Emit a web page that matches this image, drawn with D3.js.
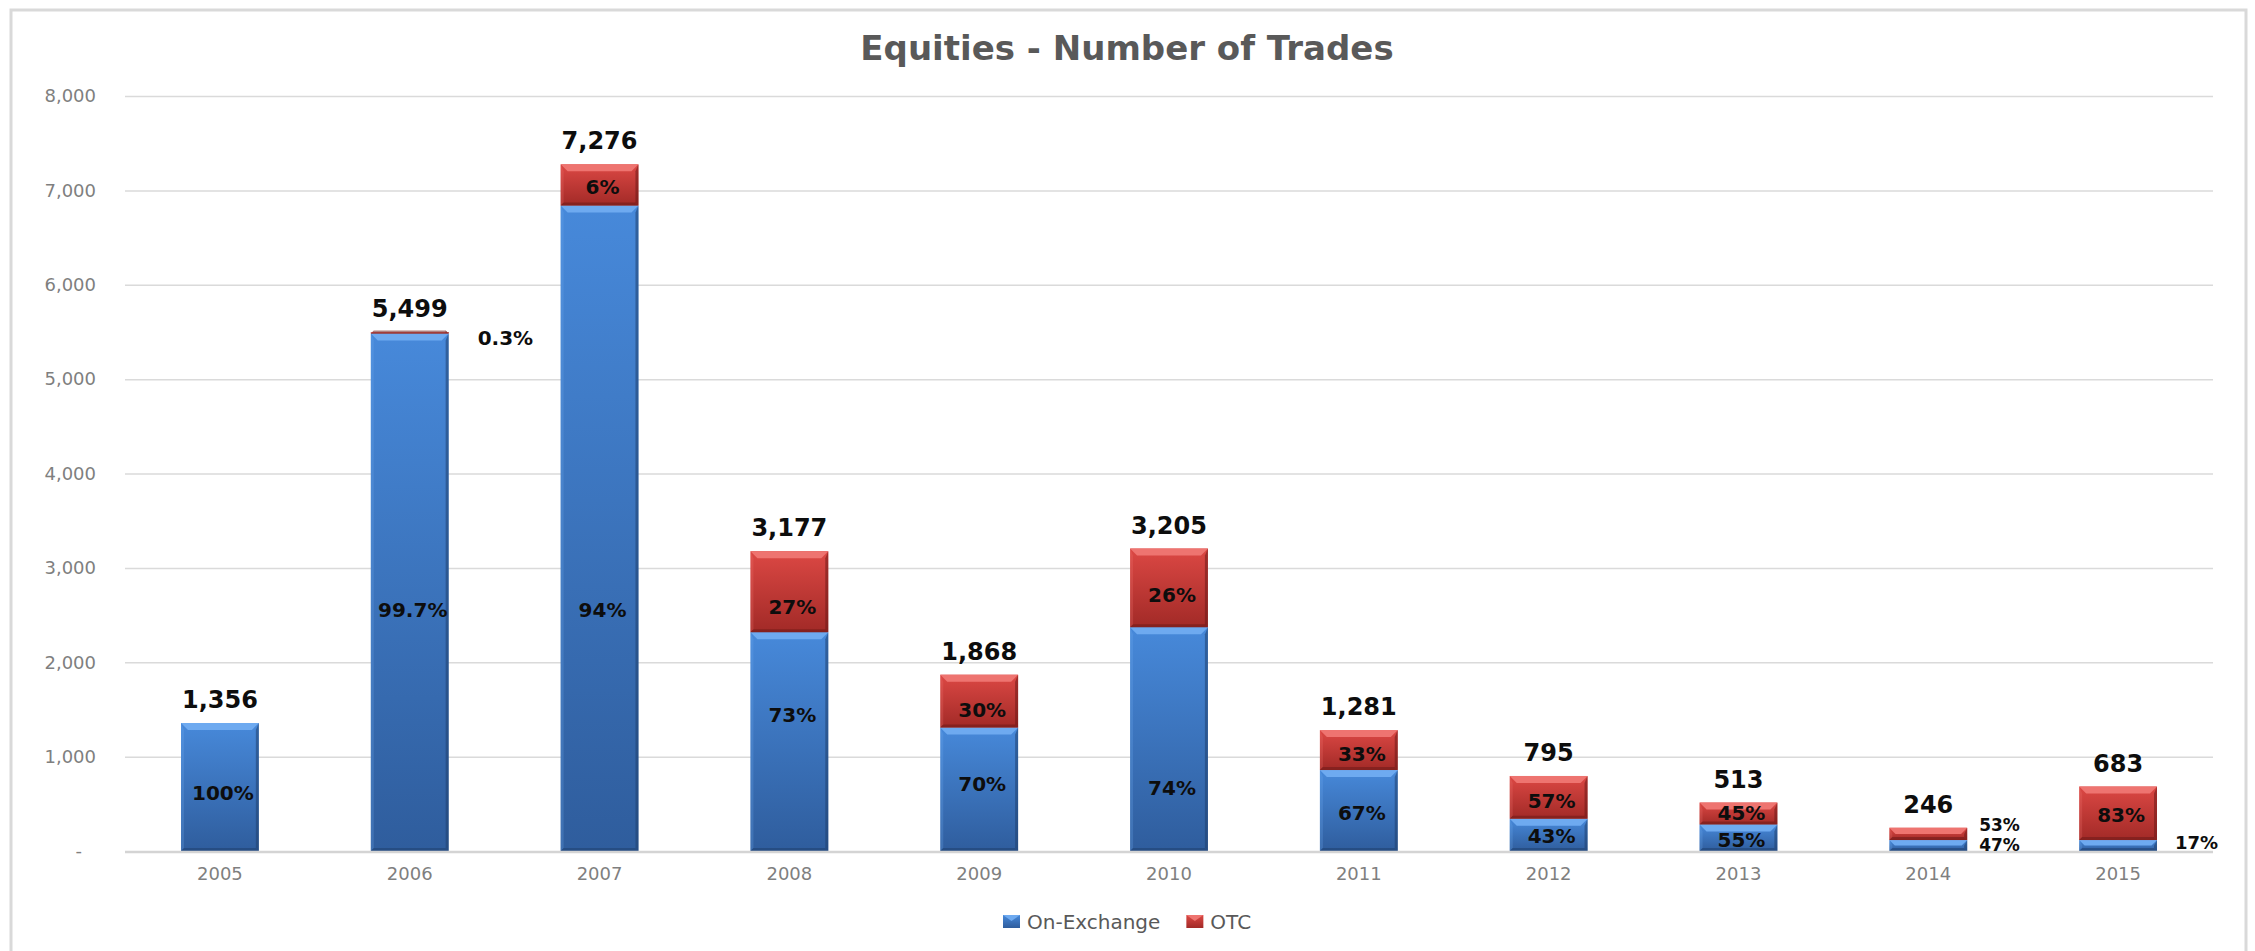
<!DOCTYPE html>
<html>
<head>
<meta charset="utf-8">
<script src="https://cdn.jsdelivr.net/npm/d3@7"></script>
<style>
  body { margin: 0; background: #fff; }
  svg { display: block; }
  .axis text { font-family: "DejaVu Sans", Verdana, sans-serif; fill: #7f7f7f; }
  .lbl { font-family: "DejaVu Sans", Verdana, sans-serif; font-weight: bold; fill: #0d0d0d; }
</style>
</head>
<body>
<div id="chart"></div>
<script>
var years = ["2005", "2006", "2007", "2008", "2009", "2010", "2011", "2012", "2013", "2014", "2015"];
var seriesNames = ["On-Exchange", "OTC"];
var onExchange = [1356, 5483, 6839, 2319, 1308, 2372, 858, 342, 282, 116, 116];
var otc = [0, 16, 437, 858, 560, 833, 423, 453, 231, 130, 567];
var totals = [1356, 5499, 7276, 3177, 1868, 3205, 1281, 795, 513, 246, 683];
var onExchangeShare = ["100%", "99.7%", "94%", "73%", "70%", "74%", "67%", "43%", "55%", "47%", "17%"];
var otcShare = ["", "0.3%", "6%", "27%", "30%", "26%", "33%", "57%", "45%", "53%", "83%"];
var yTicks = [0, 1000, 2000, 3000, 4000, 5000, 6000, 7000, 8000];

// where the share labels were put by hand (value on the y axis),
// and how far right of the bar they sit when they are outside it
var onExLabelAt = [614, 2553, 2553, 1441, 710, 667, 408, 164, 117, 68, 85];
var otcLabelAt = [null, 5434, 7034, 2585, 1494, 2712, 1028, 530, 408, 280, 381];
var onExBeside = [null, null, null, null, null, null, null, null, null, 12, 18];
var otcBeside = [null, 29, null, null, null, null, null, null, null, 12, null];

var width = 2255,
    height = 951,
    plotLeft = 125,
    plotRight = 2213,
    plotTop = 96,
    plotBottom = 851;

var svg = d3.select("#chart").append("svg")
    .attr("width", width)
    .attr("height", height);

// chart frame
svg.append("rect")
    .attr("x", 11).attr("y", 10)
    .attr("width", 2235).attr("height", 980)
    .attr("fill", "#fff")
    .attr("stroke", "#d9d9d9")
    .attr("stroke-width", 3);

var defs = svg.append("defs");
var looks = {
  "On-Exchange": {top: "#4789da", bottom: "#2f5d9d", bevel: "#6eaaf0", dark: "#1f3f6e"},
  "OTC": {top: "#dc4844", bottom: "#a22a27", bevel: "#ee7470", dark: "#6e1a18"}
};
seriesNames.forEach(function (k, i) {
  var g = defs.append("linearGradient")
      .attr("id", "grad" + i)
      .attr("x1", 0).attr("y1", 0).attr("x2", 0).attr("y2", 1);
  g.append("stop").attr("offset", "0%").attr("stop-color", looks[k].top);
  g.append("stop").attr("offset", "100%").attr("stop-color", looks[k].bottom);
});

var x = d3.scaleBand()
    .domain(years)
    .range([plotLeft, plotRight])
    .paddingInner(0.59)
    .paddingOuter(0.295);

var y = d3.scaleLinear()
    .domain([0, 8000])
    .range([plotBottom, plotTop]);

// gridlines
var grid = svg.append("g")
    .attr("transform", "translate(" + plotLeft + ",0)")
    .call(d3.axisLeft(y).tickValues(yTicks.slice(1)).tickSize(-(plotRight - plotLeft)).tickFormat(""));
grid.select(".domain").remove();
grid.selectAll("line").attr("stroke", "#dadada").attr("stroke-width", 1.5);

// y labels
var yAxis = svg.append("g")
    .attr("class", "axis")
    .attr("transform", "translate(" + plotLeft + ",0)")
    .call(d3.axisLeft(y).tickValues(yTicks).tickSize(0).tickPadding(29)
      .tickFormat(function (d) { return d === 0 ? "-" : d3.format(",")(d); }));
yAxis.select(".domain").remove();
yAxis.selectAll("text").style("font-size", "18px")
    .attr("dx", function (d) { return d === 0 ? -14 : 0; });

var table = years.map(function (yr, i) {
  return {year: yr, "On-Exchange": onExchange[i], "OTC": otc[i]};
});
var stacked = d3.stack().keys(seriesNames)(table);

var bw = x.bandwidth();

stacked.forEach(function (layer, si) {
  var look = looks[layer.key];
  layer.forEach(function (d) {
    var x0 = x(d.data.year),
        yt = y(d[1]),
        yb = y(d[0]),
        h = yb - yt;
    if (h <= 0) return;
    var b = Math.min(7, h / 2);
    var seg = svg.append("g").attr("class", "seg");
    seg.append("rect")
        .attr("x", x0).attr("y", yt)
        .attr("width", bw).attr("height", h)
        .attr("fill", "url(#grad" + si + ")");
    // bevel: light top, dark right side and bottom
    seg.append("polygon")
        .attr("points", [[x0, yt], [x0 + bw, yt], [x0 + bw - b, yt + b], [x0 + b, yt + b]].join(" "))
        .attr("fill", look.bevel);
    seg.append("polygon")
        .attr("points", [[x0 + bw, yt], [x0 + bw, yb], [x0 + bw - 3, yb - 3], [x0 + bw - 3, yt + b]].join(" "))
        .attr("fill", look.dark).attr("opacity", 0.55);
    seg.append("polygon")
        .attr("points", [[x0, yt], [x0 + 3, yt + b], [x0 + 3, yb - 3], [x0, yb]].join(" "))
        .attr("fill", look.bevel).attr("opacity", 0.25);
    seg.append("polygon")
        .attr("points", [[x0, yb], [x0 + bw, yb], [x0 + bw - 3, yb - 3], [x0 + 3, yb - 3]].join(" "))
        .attr("fill", look.dark).attr("opacity", 0.55);
  });
});

// baseline
svg.append("line")
    .attr("x1", plotLeft).attr("x2", plotRight)
    .attr("y1", y(0) + 1).attr("y2", y(0) + 1)
    .attr("stroke", "#d4d4d4").attr("stroke-width", 2.5);

// x labels
var xAxis = svg.append("g")
    .attr("class", "axis")
    .attr("transform", "translate(0," + plotBottom + ")")
    .call(d3.axisBottom(x).tickSize(0).tickPadding(16));
xAxis.select(".domain").remove();
xAxis.selectAll("text").style("font-size", "18px");

// totals above the bars
svg.selectAll("text.total")
  .data(totals)
  .enter().append("text")
    .attr("class", "lbl total")
    .attr("text-anchor", "middle")
    .style("font-size", "24px")
    .attr("x", function (d, i) { return x(years[i]) + bw / 2; })
    .attr("y", function (d) { return y(d) - 15; })
    .text(function (d) { return d3.format(",")(d); });

// share labels
function shareLabels(labels, at, beside, cls) {
  svg.selectAll("text." + cls)
    .data(labels)
    .enter().append("text")
      .filter(function (d) { return d !== ""; })
      .attr("class", "lbl " + cls)
      .style("font-size", function (d) {
        var i = labels.indexOf(d);
        if (beside[i] == null) return "20px";
        return i === 9 ? "17px" : (i === 10 ? "18px" : "20px");
      })
      .attr("text-anchor", function (d) {
        var i = labels.indexOf(d);
        return beside[i] != null ? "start" : "middle";
      })
      .attr("x", function (d) {
        var i = labels.indexOf(d);
        return beside[i] != null ? x(years[i]) + bw + beside[i] : x(years[i]) + bw / 2 + 3;
      })
      .attr("y", function (d) { return y(at[labels.indexOf(d)]); })
      .attr("dy", "0.36em")
      .text(function (d) { return d; });
}
shareLabels(onExchangeShare, onExLabelAt, onExBeside, "on");
shareLabels(otcShare, otcLabelAt, otcBeside, "otc");

// title
svg.append("text")
    .attr("x", 1127).attr("y", 60)
    .attr("text-anchor", "middle")
    .style("font-family", "'DejaVu Sans', Verdana, sans-serif")
    .style("font-weight", "bold")
    .style("font-size", "34px")
    .attr("fill", "#595959")
    .text("Equities - Number of Trades");

// legend
var legend = svg.append("g").attr("transform", "translate(1003,922)");
var lx = 0;
seriesNames.forEach(function (k, i) {
  var item = legend.append("g").attr("transform", "translate(" + lx + ",0)");
  item.append("rect")
      .attr("x", 0).attr("y", -7)
      .attr("width", 17).attr("height", 13)
      .attr("fill", "url(#grad" + i + ")");
  item.append("polygon")
      .attr("points", "0,-7 17,-7 8.5,-1")
      .attr("fill", looks[k].bevel);
  var t = item.append("text")
      .attr("x", 24).attr("dy", "0.35em")
      .style("font-family", "'DejaVu Sans', Verdana, sans-serif")
      .style("font-size", "20px")
      .attr("fill", "#595959")
      .text(k);
  lx += 24 + t.node().getComputedTextLength() + 26;
});
</script>
</body>
</html>
